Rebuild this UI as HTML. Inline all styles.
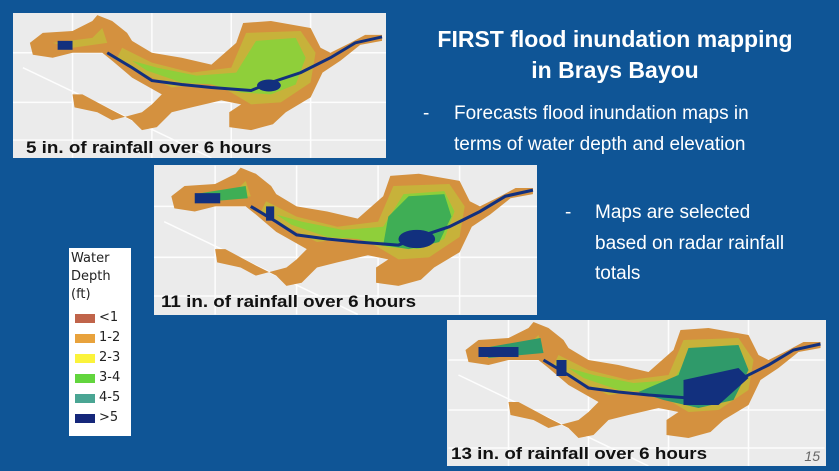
<!DOCTYPE html>
<html><head><meta charset="utf-8"><style>
body{margin:0;width:839px;height:471px;overflow:hidden;background:#0f5596;font-family:"Liberation Sans",sans-serif;position:relative}
.map{position:absolute;background:#ebebeb;overflow:hidden}
.map svg{position:absolute;left:0;top:0}
.lbl{position:absolute;font-weight:bold;font-size:16.5px;color:#111;white-space:nowrap;transform:scaleX(1.14);transform-origin:0 0}
.t{position:absolute;color:#fff;white-space:nowrap}
.leg{position:absolute;left:69px;top:248px;width:62px;height:188px;background:#fff;font-family:"DejaVu Sans",sans-serif;font-size:13px;color:#222}
.sw{position:absolute;left:6px;width:20px;height:9px}
.lt{position:absolute;left:30px}
</style></head><body>
<svg width="0" height="0" style="position:absolute"><defs>
<g id="roads" stroke="#fff" stroke-width="1.5" fill="none" opacity=".9">
<path d="M0,40 H376 M0,90 H376 M0,128 H376 M60,0 V146 M140,0 V146 M220,0 V146 M300,0 V146 M10,55 L200,146"/>
</g>
<g id="base">
<path fill="#d4913f" d="M17,30 L30,20 L60,18 L80,8 L85,2 L100,8 L115,20 L120,28 L140,40 L170,45 L200,52 L225,30 L232,10 L260,8 L300,15 L310,35 L320,40 L340,30 L355,22 L372,22 L372,28 L350,32 L330,48 L312,60 L300,85 L275,100 L262,112 L240,118 L218,115 L218,100 L230,92 L210,88 L180,95 L160,100 L145,115 L130,118 L120,108 L100,98 L85,90 L70,82 L60,82 L62,95 L85,100 L100,108 L130,100 L140,92 L150,82 L120,65 L100,48 L90,40 L60,40 L40,45 L20,42 Z"/>
<path fill="#c7b23a" d="M235,20 L290,18 L305,40 L300,70 L270,90 L240,92 L220,80 L200,70 L160,75 L130,60 L105,45 L110,35 L140,50 L180,60 L220,55 Z M40,30 L80,25 L90,15 L95,30 L60,35 Z"/>
<path fill="#8fcf3a" d="M245,28 L285,25 L295,45 L285,72 L260,82 L230,80 L200,72 L170,70 L135,58 L120,48 L145,55 L185,63 L225,60 Z"/>
</g>
<g id="blue" fill="none" stroke="#12307e" stroke-width="3">
<polyline points="95,40 120,55 140,68 170,72 200,75 240,78 260,70 290,60 320,45 345,30 372,24"/>
</g>
</defs></svg>

<div class="map" style="left:13px;top:13px;width:373px;height:145px">
<svg width="373" height="145" viewBox="0 0 376 146"><use href="#roads"/><use href="#base"/><use href="#blue"/>
<ellipse cx="258" cy="73" rx="12" ry="6" fill="#12307e"/><rect x="45" y="28" width="15" height="9" fill="#12307e"/></svg>
<div class="lbl" style="left:13px;top:126px">5 in. of rainfall over 6 hours</div>
</div>

<div class="map" style="left:154px;top:165px;width:383px;height:150px">
<svg width="383" height="150" viewBox="0 0 376 146"><use href="#roads"/><use href="#base"/>
<path fill="#3fae55" d="M250,30 L285,28 L292,50 L280,75 L250,82 L225,78 L230,50 Z M40,28 L90,20 L92,32 L45,36 Z"/><use href="#blue"/>
<ellipse cx="258" cy="72" rx="18" ry="9" fill="#12307e"/><rect x="40" y="27" width="25" height="10" fill="#12307e"/><rect x="110" y="40" width="8" height="14" fill="#12307e"/></svg>
<div class="lbl" style="left:7px;top:128px">11 in. of rainfall over 6 hours</div>
</div>

<div class="map" style="left:447px;top:320px;width:379px;height:146px">
<svg width="379" height="146" viewBox="0 0 376 146"><use href="#roads"/><use href="#base"/>
<path fill="#2f9a6a" d="M240,28 L290,25 L300,50 L285,80 L250,88 L215,80 L190,72 L230,55 Z M35,28 L92,18 L95,33 L40,38 Z"/><use href="#blue"/>
<path fill="#12307e" d="M235,60 L290,48 L300,58 L270,85 L235,85 Z"/><rect x="30" y="27" width="40" height="10" fill="#12307e"/><rect x="108" y="40" width="10" height="16" fill="#12307e"/></svg>
<div class="lbl" style="left:4px;top:125px">13 in. of rainfall over 6 hours</div>
<div style="position:absolute;right:6px;top:128px;font-size:14px;font-style:italic;color:#666">15</div>
</div>

<div class="t" style="left:400px;width:430px;top:24px;text-align:center;font-weight:bold;font-size:23px;line-height:31px">FIRST flood inundation mapping<br>in Brays Bayou</div>
<div class="t" style="left:423px;top:98px;font-size:19px;line-height:31px">-<span style="position:absolute;left:31px">Forecasts flood inundation maps in<br>terms of water depth and elevation</span></div>
<div class="t" style="left:565px;top:198px;font-size:19px;line-height:30.5px">-<span style="position:absolute;left:30px">Maps are selected<br>based on radar rainfall<br>totals</span></div>

<div class="leg">
<div style="position:absolute;left:2px;top:2px;line-height:18px">Water<br>Depth<br>(ft)</div>
<div class="sw" style="top:66px;background:#c0644a"></div><div class="lt" style="top:62px">&lt;1</div>
<div class="sw" style="top:86px;background:#e8a23c"></div><div class="lt" style="top:82px">1-2</div>
<div class="sw" style="top:106px;background:#fbf33b"></div><div class="lt" style="top:102px">2-3</div>
<div class="sw" style="top:126px;background:#62d53d"></div><div class="lt" style="top:122px">3-4</div>
<div class="sw" style="top:146px;background:#4aa593"></div><div class="lt" style="top:142px">4-5</div>
<div class="sw" style="top:166px;background:#15277a"></div><div class="lt" style="top:162px">&gt;5</div>
</div>
</body></html>
